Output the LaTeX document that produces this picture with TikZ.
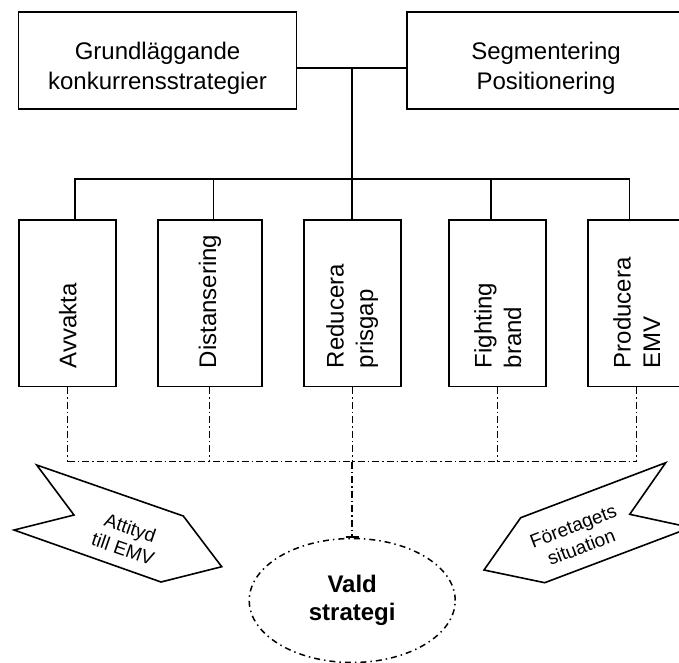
\documentclass[tikz,border=0pt]{standalone}
\usepackage{fontspec}
\setmainfont{Liberation Sans}
\usetikzlibrary{shapes.geometric}
\usetikzlibrary{arrows.meta}

\begin{document}
\begin{tikzpicture}[x=1pt,y=-1pt]
	\tikzset{topbox/.style={draw, line width=1.8pt, minimum width=278pt, minimum height=97pt, inner sep=0pt},
		stratbox/.style={draw, line width=1.8pt, minimum height=166.5pt, inner sep=0pt},
		boxtext/.style={font=\fontsize{24}{29.5}\selectfont, align=center, inner sep=0pt},
		sidetext/.style={boxtext, rotate=90, anchor=west, align=left},
		link/.style={line width=1.6pt, line cap=rect},
		dashdot/.style={line width=1pt, dash pattern=on 7pt off 3pt on 1.5pt off 3pt},
		arrowtext/.style={font=\fontsize{19}{22.5}\selectfont, align=center, inner sep=0pt}};
	\useasboundingbox (0,0) rectangle (679,662);
	% top boxes
	\node[topbox] (grund) at (157.5,60.7) {};
	\node[boxtext] (grundtext) at (157.5,68.5) {Grundläggande\\konkurrensstrategier};
	\node[topbox] (seg) at (546,60.7) {};
	\node[boxtext] (segtext) at (546,68.5) {Segmentering\\Positionering};
	% strategies
	\foreach \n/\x/\w in {avv/67.7/97, dist/209.9/104, red/352.2/97, fight/497.8/97, prod/636.7/97}
		\node[stratbox, minimum width=\w pt] (\n) at (\x,303.3) {};
	\node[sidetext] (avvtext) at (67.7,368.3) {Avvakta};
	\node[sidetext] (disttext) at (209.9,368.3) {Distansering};
	\node[sidetext] (redtext) at (352.2,368.3) {Reducera\\prisgap};
	\node[sidetext] (fighttext) at (497.8,368.3) {Fighting\\brand};
	\node[sidetext] (prodtext) at (636.7,368.3) {Producera\\EMV};
	% result
	\node[ellipse, draw, line width=1.5pt, dash pattern=on 6pt off 4pt on 1.5pt off 4pt, minimum width=206pt, minimum height=124pt, inner sep=0pt, font=\bfseries\fontsize{24}{28}\selectfont, align=center] (vald) at (352.2,600.5) {Vald\\strategi};
	% solid links
	\coordinate (hub) at (352.2,68);
	\coordinate (bus) at (352.2,179);
	\draw[link] (grund.east |- hub) -- (seg.west |- hub);
	\draw[link] (hub) -- (bus);
	\foreach \n/\x in {avv/74.7, dist/213.4, red/352.2, fight/490.9, prod/629.6} {
		\coordinate (drop\n) at (\x,179);
		\draw[link] (drop\n) -- (drop\n |- \n.north);
	}
	\draw[link] (dropavv) -- (dropprod);
	% dash-dot links
	\coordinate (dbus) at (352.2,461.7);
	\foreach \n in {avv,dist,red,fight,prod}
		\draw[dashdot] (\n.south) -- (\n.south |- dbus);
	\draw[dashdot] (avv.south |- dbus) -- (prod.south |- dbus);
	\draw[dashdot, line width=1.8pt, -{Bar[width=13pt]}] (red.south |- dbus) -- (vald.north);
	% side arrows
	\draw[line width=1.6pt, line join=miter] (36.7,465) -- (183.3,516) -- (221.7,566.7) -- (161,582) -- (14,530) -- (74,515) -- cycle;
	\node[arrowtext, rotate=-19] (attityd) at (126.7,538.3) {Attityd\\till EMV};
	\draw[line width=1.6pt, line join=miter] (665.7,462.7) -- (520.7,517.7) -- (484,570) -- (544.7,582.7) -- (690.7,527.5) -- (629.7,514.3) -- cycle;
	\node[arrowtext, rotate=21] (situation) at (577.3,536.7) {Företagets\\situation};
\end{tikzpicture}
\end{document}
